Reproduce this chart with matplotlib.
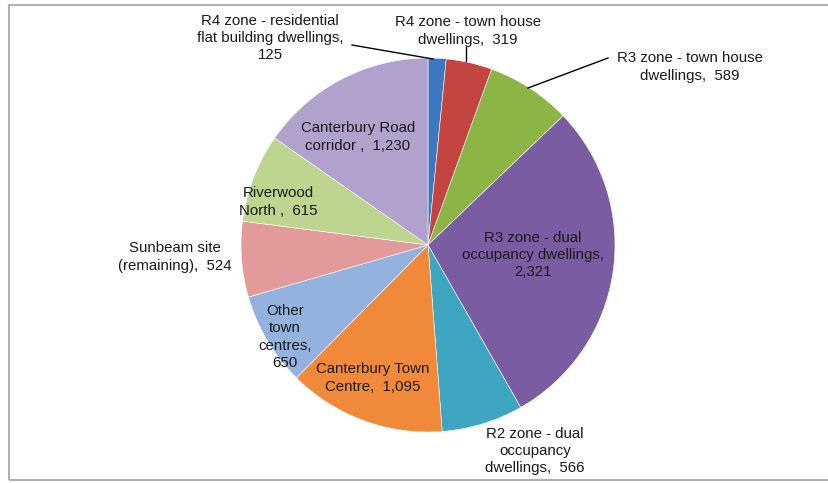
import matplotlib
matplotlib.use("Agg")
import matplotlib.pyplot as plt
from matplotlib.patches import Rectangle

labels = [
    "R4 zone - residential\nflat building dwellings,\n125",
    "R4 zone - town house\ndwellings,  319",
    "R3 zone - town house\ndwellings,  589",
    "R3 zone - dual\noccupancy dwellings,\n2,321",
    "R2 zone - dual\noccupancy\ndwellings,  566",
    "Canterbury Town\nCentre,  1,095",
    "Other\ntown\ncentres,\n650",
    "Sunbeam site\n(remaining),  524",
    "Riverwood\nNorth ,  615",
    "Canterbury Road\ncorridor ,  1,230",
]
values = [125, 319, 589, 2321, 566, 1095, 650, 524, 615, 1230]
colors = ["#3B78BF", "#C4443F", "#8DB545", "#7A5CA3", "#3FA6C2",
          "#F08A3A", "#94B2DE", "#E39A9A", "#BDD58E", "#B0A2CC"]

# label positions in pixel coordinates (x, y from top)
label_pos = [(270, 38), (468, 31), (690, 67), (533, 255), (535, 451),
             (373, 378), (285, 337), (175, 257), (278, 202), (358, 137)]
# leader lines (pixel coords) for outside labels
leaders = [[(352, 45), (433, 59)], [(466, 47), (466, 61)], [(608, 58), (528, 88)]]

W, H = 829, 483
fig = plt.figure(figsize=(W / 100, H / 100), dpi=100)
ax = fig.add_axes([0, 0, 1, 1])
ax.set_xlim(0, W)
ax.set_ylim(0, H)
ax.axis("off")

cx, cy, r = 428, H - 245, 187
ax.pie(values, colors=colors, startangle=90, counterclock=False,
       center=(cx, cy), radius=r, frame=False,
       wedgeprops=dict(edgecolor="white", linewidth=0.4))
ax.set_xlim(0, W)
ax.set_ylim(0, H)
ax.set_aspect("equal", adjustable="box")

for lab, (x, y) in zip(labels, label_pos):
    ax.text(x, H - y, lab, ha="center", va="center", fontsize=10.8,
            family="Liberation Sans", color="#1a1a1a", linespacing=1.3)

for seg in leaders:
    xs = [p[0] for p in seg]
    ys = [H - p[1] for p in seg]
    ax.plot(xs, ys, color="black", lw=1.0)

# chart frame
fig.add_artist(Rectangle((9 / W, 1 - 480 / H), (W + 20) / W, 475 / H,
                         transform=fig.transFigure, fill=False,
                         edgecolor="#b0b0b0", lw=1.5))

fig.savefig("out.png", dpi=100, facecolor="white")
